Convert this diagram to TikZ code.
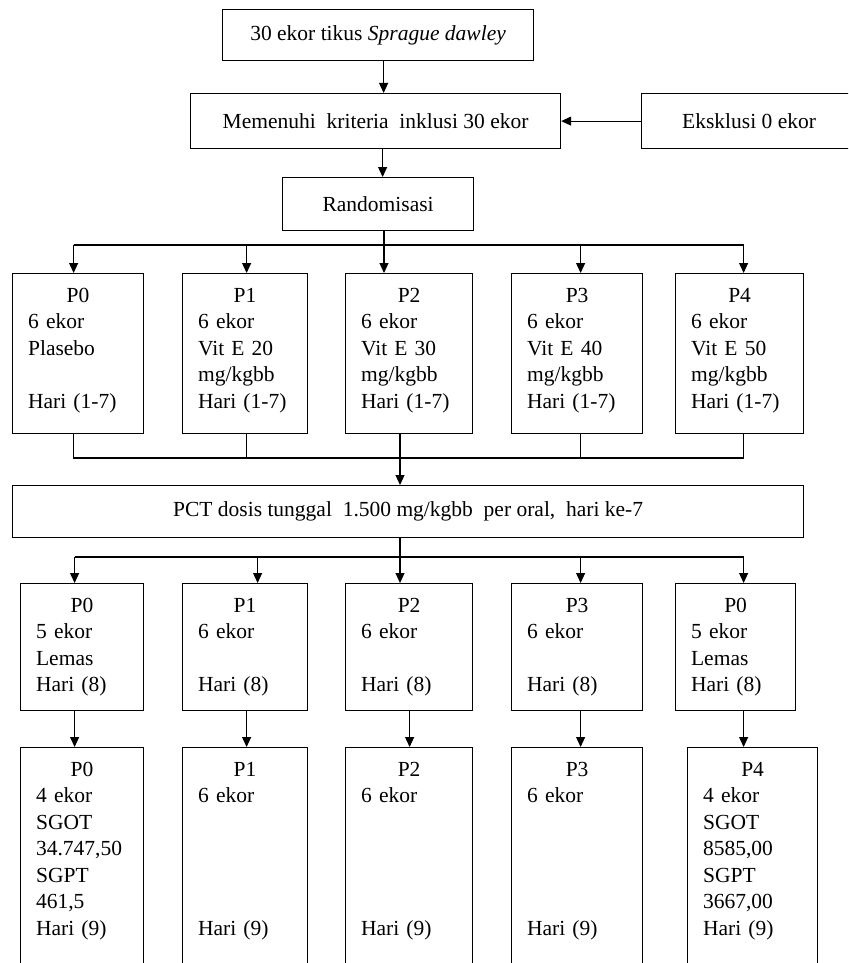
\documentclass[tikz,border=0pt]{standalone}
\usepackage{fontspec}
\setmainfont{Liberation Serif}
\usetikzlibrary{arrows.meta,positioning}

\begin{document}
\begin{tikzpicture}[x=1pt,y=-1pt,>={Triangle[length=10pt,width=9pt]},
  every node/.style={font=\fontsize{21.5}{26.5}\selectfont},
  kotak/.style={draw,line width=1.2pt,anchor=north west,inner sep=0pt},
  kelompok/.style 2 args={draw,line width=1.2pt,anchor=north west,align=left,
    inner xsep=15.5pt,inner ysep=14pt,text height=14.5pt,text width=#1,text depth=#2},
  garis/.style={line width=1.1pt},
  panah/.style={garis,->}]
\useasboundingbox (0,0) rectangle (848,963);
\clip (0,0) rectangle (848,963);

% alur atas
\node[kotak,minimum width=311pt,minimum height=51pt] (atas) at (222,9) {30 ekor tikus \textit{Sprague dawley}};
\node[kotak,minimum width=370pt,minimum height=55pt] (inklusi) at (190,93) {Memenuhi\ \ kriteria\ \ inklusi 30 ekor};
\node[kotak,minimum width=215pt,minimum height=55pt] (eksklusi) at (641,93) {Eksklusi 0 ekor};
\node[kotak,minimum width=191pt,minimum height=53pt] (acak) at (282,177) {Randomisasi};

\draw[panah] ([xshift=5.5pt]atas.south) -- ([xshift=5.5pt]atas.south |- inklusi.north);
\draw[panah] (eksklusi.west) -- (inklusi.east);
\draw[panah] ([xshift=7pt]inklusi.south) -- ([xshift=7pt]inklusi.south |- acak.north);

% perlakuan hari 1-7
\node[kelompok={100pt}{117.5pt}] (a0) at (12,273) {\hfill P0\hfill\null\\6 ekor\\Plasebo\\\mbox{}\\Hari (1-7)};
\node[kelompok={94pt}{117.5pt}] (a1) at (182,273) {\hfill P1\hfill\null\\6 ekor\\Vit E 20\\mg/kgbb\\Hari (1-7)};
\node[kelompok={96pt}{117.5pt}] (a2) at (345,273) {\hfill P2\hfill\null\\6 ekor\\Vit E 30\\mg/kgbb\\Hari (1-7)};
\node[kelompok={100pt}{117.5pt}] (a3) at (511,273) {\hfill P3\hfill\null\\6 ekor\\Vit E 40\\mg/kgbb\\Hari (1-7)};
\node[kelompok={97pt}{117.5pt}] (a4) at (675,273) {\hfill P4\hfill\null\\6 ekor\\Vit E 50\\mg/kgbb\\Hari (1-7)};

\coordinate (bagi) at (384,245);
\draw[garis] (acak.south -| bagi) -- (bagi);
\draw[garis] ([xshift=-4.5pt]a0.north |- bagi) -- ([xshift=4pt]a4.north |- bagi);
\draw[panah] (bagi) -- (bagi |- a2.north);
\foreach \k/\dx in {0/-4.5,1/1.5,3/3.5,4/4}
  \draw[panah] ([xshift=\dx pt]a\k.north |- bagi) -- ([xshift=\dx pt]a\k.north);

% induksi PCT
\node[kotak,minimum width=791pt,minimum height=52pt] (pct) at (12,485) {PCT dosis tunggal\ \ 1.500 mg/kgbb\ \ per oral,\ \ hari ke-7};

\coordinate (gabung) at (400,458);
\draw[garis] ([xshift=-4.5pt]a0.south) -- ([xshift=-4.5pt]a0.south |- gabung) -- ([xshift=4pt]a4.south |- gabung) -- ([xshift=4pt]a4.south);
\foreach \k/\dx in {1/1.5,3/3.5}
  \draw[garis] ([xshift=\dx pt]a\k.south) -- ([xshift=\dx pt]a\k.south |- gabung);
\draw[panah] (a2.south -| gabung) -- (gabung |- pct.north);

% hari 8
\node[kelompok={92pt}{84.5pt}] (b0) at (20,583) {\hfill P0\hfill\null\\5 ekor\\Lemas\\Hari (8)};
\node[kelompok={94pt}{84.5pt}] (b1) at (182,583) {\hfill P1\hfill\null\\6 ekor\\\mbox{}\\Hari (8)};
\node[kelompok={96pt}{84.5pt}] (b2) at (345,583) {\hfill P2\hfill\null\\6 ekor\\\mbox{}\\Hari (8)};
\node[kelompok={100pt}{84.5pt}] (b3) at (511,583) {\hfill P3\hfill\null\\6 ekor\\\mbox{}\\Hari (8)};
\node[kelompok={89pt}{84.5pt}] (b4) at (675,583) {\hfill P0\hfill\null\\5 ekor\\Lemas\\Hari (8)};

\coordinate (sebar) at (400,557);
\draw[garis] (pct.south -| sebar) -- (sebar);
\draw[garis] ([xshift=-7.5pt]b0.north |- sebar) -- ([xshift=8pt]b4.north |- sebar);
\draw[panah] (sebar) -- (sebar |- b2.north);
\foreach \k/\dx in {0/-7.5,1/12.5,3/3.5,4/8}
  \draw[panah] ([xshift=\dx pt]b\k.north |- sebar) -- ([xshift=\dx pt]b\k.north);

% hari 9
\node[kelompok={92pt}{250pt}] (c0) at (20,747) {\hfill P0\hfill\null\\4 ekor\\SGOT\\34.747,50\\SGPT\\461,5\\Hari (9)};
\node[kelompok={94pt}{250pt}] (c1) at (182,747) {\hfill P1\hfill\null\\6 ekor\\\mbox{}\\\mbox{}\\\mbox{}\\\mbox{}\\Hari (9)};
\node[kelompok={96pt}{250pt}] (c2) at (345,747) {\hfill P2\hfill\null\\6 ekor\\\mbox{}\\\mbox{}\\\mbox{}\\\mbox{}\\Hari (9)};
\node[kelompok={100pt}{250pt}] (c3) at (511,747) {\hfill P3\hfill\null\\6 ekor\\\mbox{}\\\mbox{}\\\mbox{}\\\mbox{}\\Hari (9)};
\node[kelompok={99pt}{250pt}] (c4) at (687,747) {\hfill P4\hfill\null\\4 ekor\\SGOT\\8585,00\\SGPT\\3667,00\\Hari (9)};

\foreach \k/\dx in {0/-7.5,1/1.5,2/0.5,3/3.5,4/8}
  \draw[panah] ([xshift=\dx pt]b\k.south) -- ([xshift=\dx pt]b\k.south |- c\k.north);
\end{tikzpicture}
\end{document}
